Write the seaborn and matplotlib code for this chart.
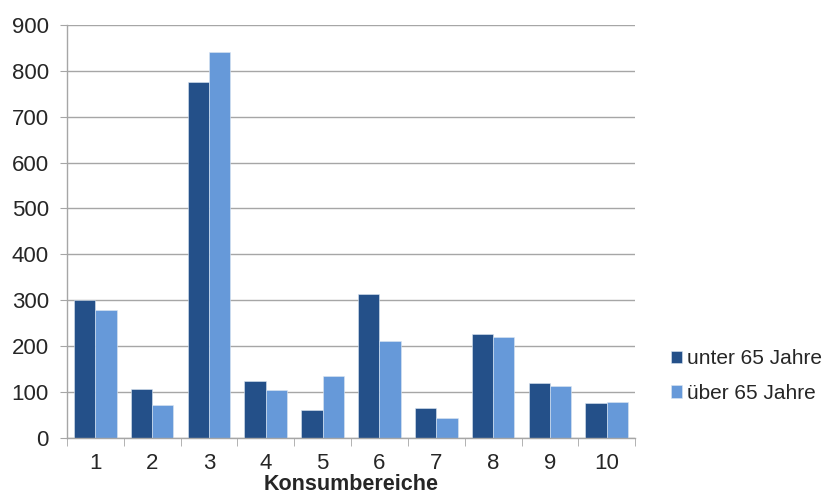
import pandas as pd
import matplotlib
matplotlib.use("Agg")
import matplotlib.pyplot as plt
import seaborn as sns

# Konsumbereiche 1..10
bereiche = ["1", "2", "3", "4", "5", "6", "7", "8", "9", "10"]
unter_65 = [300, 107, 775, 124, 61, 314, 65, 226, 120, 77]
ueber_65 = [278, 71, 840, 105, 136, 212, 44, 219, 113, 78]
gruppen = ["unter 65 Jahre", "über 65 Jahre"]

df = pd.DataFrame({
    "Konsumbereiche": bereiche * 2,
    "Wert": unter_65 + ueber_65,
    "Gruppe": [gruppen[0]] * len(bereiche) + [gruppen[1]] * len(bereiche),
})

sns.set_style("white")
plt.rcParams["font.family"] = ["Liberation Sans", "DejaVu Sans"]

fig, ax = plt.subplots(figsize=(8.26, 4.96), dpi=100)
fig.subplots_adjust(left=0.081, right=0.769, top=0.95, bottom=0.117)

farben = ["#245089", "#6699D9"]
sns.barplot(data=df, x="Konsumbereiche", y="Wert", hue="Gruppe",
            palette=farben, width=0.75, gap=0, saturation=1,
            edgecolor="#dce6f2", linewidth=0.4, ax=ax, legend=True)

ax.set_ylim(0, 900)
ax.set_xlim(-0.5, 9.5)
ax.set_yticks(range(0, 901, 100))
ax.yaxis.grid(True, color="#a6a6a6", linewidth=1)
ax.set_axisbelow(True)
for s in ["top", "right"]:
    ax.spines[s].set_visible(False)
for s in ["left", "bottom"]:
    ax.spines[s].set_color("#a6a6a6")
    ax.spines[s].set_linewidth(1)

ax.tick_params(axis="y", labelsize=16, length=5, color="#a6a6a6", direction="out", left=True, pad=8)
ax.tick_params(axis="x", labelsize=16, length=0, pad=11)
ax.set_xticks([i + 0.5 for i in range(-1, 10)], minor=True)
ax.tick_params(axis="x", which="minor", length=6, color="#a6a6a6", direction="out", bottom=True)

ax.set_ylabel("")
ax.set_xlabel("Konsumbereiche", fontsize=15.5, fontweight="bold", labelpad=0)

handles, labels = ax.get_legend_handles_labels()
ax.legend_.remove()
fig.legend(handles, labels, loc="center left", bbox_to_anchor=(0.812, 0.242),
           frameon=False, fontsize=15, handlelength=0.55, handleheight=0.55,
           handletextpad=0.22, labelspacing=0.75, borderpad=0, borderaxespad=0)

fig.savefig("out.png", dpi=100)
